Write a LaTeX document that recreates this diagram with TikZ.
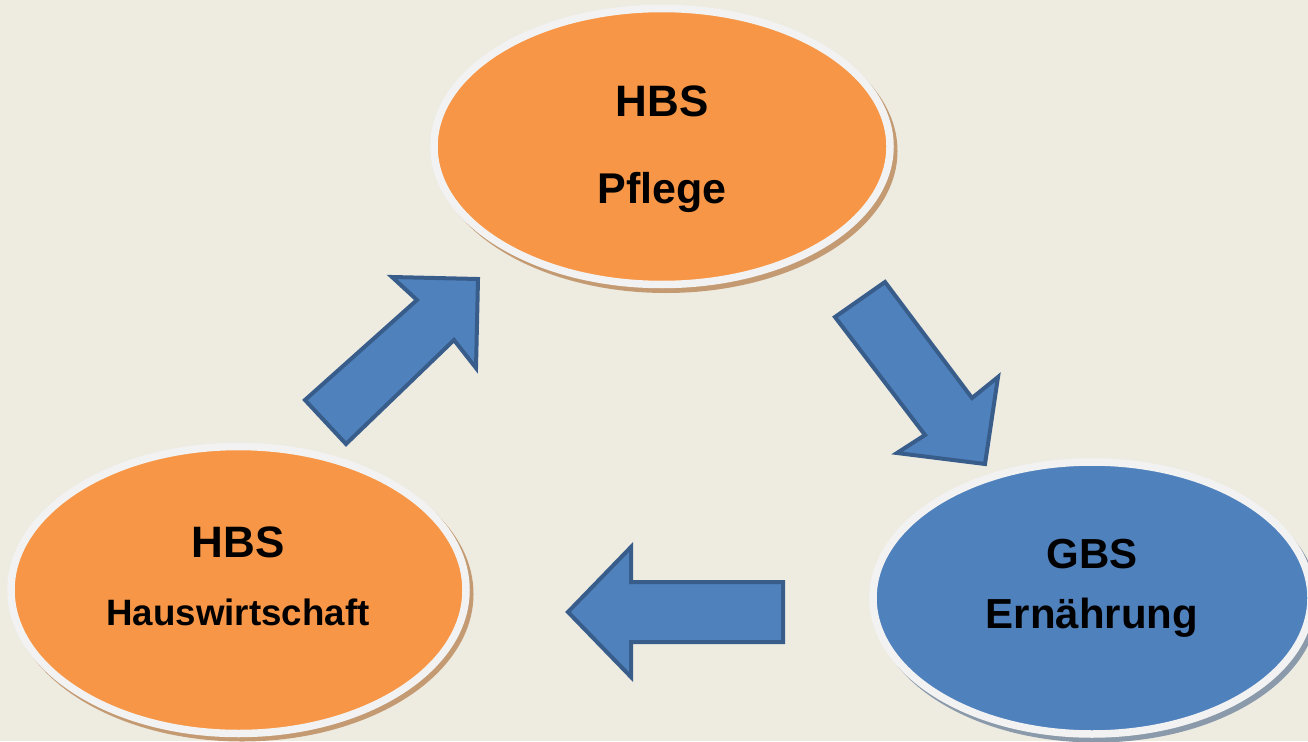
\documentclass[tikz,border=0pt]{standalone}
\usepackage{fontspec}
\setmainfont{Liberation Sans}
\usetikzlibrary{shapes.geometric}
\definecolor{bg}{HTML}{EEEBE1}
\definecolor{orangefill}{HTML}{F79646}
\definecolor{bluefill}{HTML}{4F81BD}
\definecolor{bluedark}{HTML}{385D8A}
\definecolor{ring}{HTML}{F2F2F2}
\definecolor{shadowor}{HTML}{C49A72}
\definecolor{shadowbl}{HTML}{8A9AAB}
\tikzset{
  bubble/.style={ellipse, inner sep=0pt, draw=ring, line width=7.5pt},
  shade/.style={ellipse, inner sep=0pt},
  bigarrow/.style={fill=bluefill, draw=bluedark, line width=4pt, line join=miter},
  lbl/.style={anchor=base, font=\bfseries, inner sep=0pt}
}
\begin{document}
\begin{tikzpicture}[x=1pt,y=-1pt]
\fill[bg] (0,0) rectangle (1308,741);
\useasboundingbox (0,0) rectangle (1308,741);
% shadows
\node[shade, fill=shadowor, minimum width=463pt, minimum height=284pt] (s1) at (666,151) {};
\node[shade, fill=shadowor, minimum width=463pt, minimum height=295pt] (s2) at (242,594) {};
\node[shade, fill=shadowbl, minimum width=445pt, minimum height=279pt] (s3) at (1096,603) {};
% ellipses
\node[bubble, fill=orangefill, minimum width=456pt, minimum height=276pt] (pflege) at (662,146.5) {};
\node[bubble, fill=orangefill, minimum width=455pt, minimum height=287pt] (haus) at (238.5,590) {};
\node[bubble, fill=bluefill, minimum width=438pt, minimum height=272pt] (ern) at (1092,598) {};
% texts
\node[lbl, font=\fontsize{44}{50}\selectfont\bfseries] (t1a) at (662,117) {HBS};
\node[lbl, font=\fontsize{43}{50}\selectfont\bfseries] (t1b) at (662,203) {Pflege};
\node[lbl, font=\fontsize{44}{50}\selectfont\bfseries] (t2a) at (238,557) {HBS};
\node[lbl, font=\fontsize{36.7}{42}\selectfont\bfseries] (t2b) at (238,625) {Hauswirtschaft};
\node[lbl, font=\fontsize{42}{48}\selectfont\bfseries] (t3a) at (1092,568) {GBS};
\node[lbl, font=\fontsize{42}{48}\selectfont\bfseries] (t3b) at (1092,628) {Ernährung};
% arrows
\draw[bigarrow] (305,400) -- (346,444) -- (454,340) -- (476,368) -- (478,279) -- (392,277) -- (417,300) -- cycle;
\draw[bigarrow] (835,317) -- (885,282) -- (972,398) -- (998,377) -- (985,464) -- (897,453) -- (925,435) -- cycle;
\draw[bigarrow] (568,612) -- (631,547) -- (631,582) -- (783,582) -- (783,642) -- (631,642) -- (631,677) -- cycle;
\end{tikzpicture}
\end{document}
